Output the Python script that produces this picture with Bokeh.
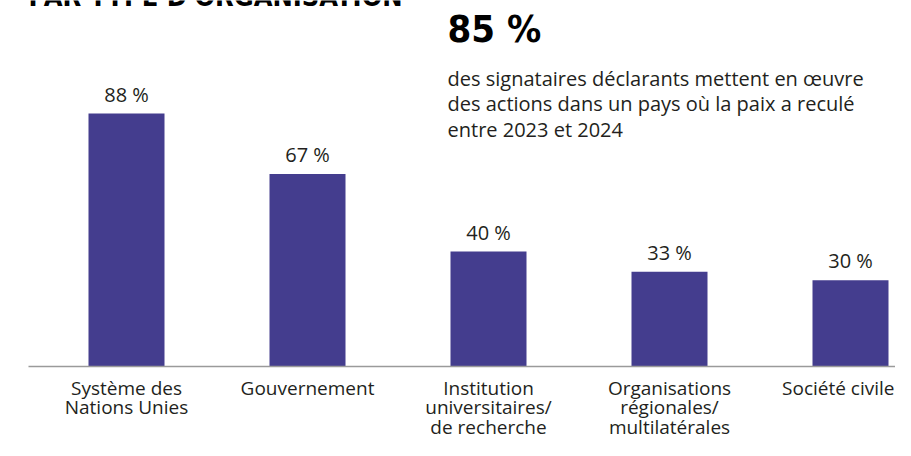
from bokeh.plotting import figure
from bokeh.models import ColumnDataSource, Range1d
from bokeh.core.properties import value
from bokeh.embed import file_html
from bokeh.resources import INLINE

# ---- data ----
categories = ["Système des\nNations Unies", "Gouvernement",
              "Institution\nuniversitaires/\nde recherche",
              "Organisations\nrégionales/\nmultilatérales", "Société civile"]
values = [88, 67, 40, 33, 30]
value_labels = [f"{v} %" for v in values]
title_text = "PAR TYPE D'ORGANISATION"
big_number = "85 %"
paragraph = ["des signataires déclarants mettent en œuvre",
             "des actions dans un pays où la paix a reculé",
             "entre 2023 et 2024"]

W, H = 895, 440
# pixel helpers (frame == whole canvas)
X0, DX = 126.0, 181.0       # center of first category, spacing in px
BASE, PPU = 366.0, 2.875    # baseline px from top, px per percent
def xd(px):
    return (px - X0) / DX
def yd(py):
    return (BASE - py) / PPU

FONT = "Open Sans"
COND = "'DejaVu Sans Condensed', sans-serif"
TXT = "#231f20"
BAR = "#443d8e"
FS = 20
LFS = 19
LINE = 19.5

p = figure(width=W, height=H, output_backend="svg", toolbar_location=None,
           x_range=Range1d(xd(0), xd(W)), y_range=Range1d(yd(H), yd(0)),
           min_border=0, outline_line_color=None)
p.axis.visible = False
p.grid.visible = False
p.background_fill_color = "white"
p.border_fill_color = "white"

n = len(categories)
idx = list(range(n))
src = ColumnDataSource(dict(x=idx, top=values, lab=value_labels))

# one row per label line (all but the last category, which is right-aligned)
lx, lt, lo = [], [], []
for i, c in enumerate(categories[:-1]):
    for j, line in enumerate(c.split("\n")):
        lx.append(i)
        lt.append(line)
        lo.append(8 + j * LINE)
src_cat = ColumnDataSource(dict(x=lx, t=lt, off=lo))

p.vbar(x="x", top="top", bottom=0, width=76 / DX, source=src,
       fill_color=BAR, line_color=None)

# baseline
p.segment(x0=[xd(28)], y0=[0], x1=[xd(W + 5)], y1=[0],
          line_color="#9a9a9a", line_width=1.5)

# value labels
p.text(x="x", y="top", text="lab", source=src, text_align="center",
       text_baseline="alphabetic", y_offset=-19.5, text_font=value(FONT),
       text_font_size=f"{FS}px", text_color=TXT)

# category labels
p.text(x="x", y=0, text="t", source=src_cat, text_align="center",
       text_baseline="top", y_offset="off", text_font=value(FONT),
       text_font_size=f"{LFS}px", text_color=TXT)
# last label kept inside the canvas
p.text(x=[xd(W - 1)], y=[0], text=[categories[-1]], text_align="right",
       text_baseline="top", y_offset=8, text_font=value(FONT),
       text_font_size=f"{LFS}px", text_color=TXT)

# title (cut at top as in reference)
p.text(x=[xd(28)], y=[yd(-4)], text=[title_text], text_align="left",
       text_baseline="alphabetic", text_font=value(COND),
       text_font_style="bold", text_font_size="27px", text_color="black")

# big number
p.text(x=[xd(447)], y=[yd(28)], text=[big_number], text_align="left",
       text_baseline="alphabetic", text_font=value(COND),
       text_font_style="bold", text_font_size="38px", text_color="black")

# paragraph
p.text(x=[xd(447)] * 3, y=[yd(77.5), yd(103), yd(128.5)], text=paragraph,
       text_align="left", text_baseline="alphabetic", text_font=value(FONT),
       text_font_size=f"{FS}px", text_color=TXT)

open("out.html", "w").write(file_html(p, INLINE))
